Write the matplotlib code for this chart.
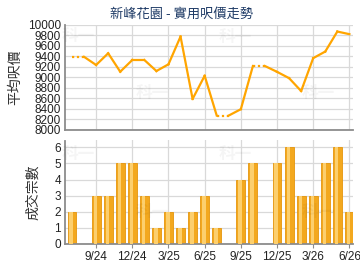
import matplotlib
matplotlib.use("Agg")
import matplotlib.pyplot as plt
import numpy as np

months = ["7/24","8/24","9/24","10/24","11/24","12/24","1/25","2/25","3/25","4/25","5/25","6/25",
          "7/25","8/25","9/25","10/25","11/25","12/25","1/26","2/26","3/26","4/26","5/26","6/26"]
prices = [9390, 9390, 9235, 9457, 9107, 9330, 9330, 9120, 9248, 9775, 8590, 9030,
          8275, 8275, 8395, 9215, 9215, 9105, 8985, 8740, 9365, 9490, 9870, 9820]
counts = [2, 0, 3, 3, 5, 5, 3, 1, 2, 1, 2, 3, 1, 0, 4, 5, 0, 5, 6, 3, 3, 5, 6, 2]
tick_labels = ["9/24", "12/24", "3/25", "6/25", "9/25", "12/25", "3/26", "6/26"]
title = "新峰花園 - 實用呎價走勢"
ylabel_top = "平均呎價"
ylabel_bot = "成交宗數"

CJK = ["Noto Sans CJK TC", "DejaVu Sans"]
NUM = ["Liberation Sans", "DejaVu Sans"]

W, H = 360, 270
fig = plt.figure(figsize=(3.6, 2.7), dpi=100)
fig.patch.set_facecolor("white")

x = np.arange(len(months))
tick_pos = [months.index(t) for t in tick_labels]
xlim = (-0.58, 23.3)

def ax_rect(l, r, t, b):
    return [l / W, 1 - b / H, (r - l) / W, (b - t) / H]

grid_c = "#d9d9d9"
spine_c = "#8c8c8c"

# ---- top: price line ----
ax1 = fig.add_axes(ax_rect(65, 353, 24.7, 130))
ax1.set_xlim(*xlim)
ax1.set_ylim(8000, 10000)
ax1.set_yticks(np.arange(8000, 10001, 200))
ax1.set_xticks(tick_pos)
ax1.set_xticklabels([])
ax1.tick_params(axis="x", length=0)
ax1.tick_params(axis="y", length=0, pad=3, labelsize=8.5, colors="#222222")
for lab in ax1.get_yticklabels():
    lab.set_family(NUM)
ax1.grid(True, color=grid_c, linewidth=0.9)
ax1.set_axisbelow(True)
for s in ["top", "right"]:
    ax1.spines[s].set_visible(False)
for s in ["left", "bottom"]:
    ax1.spines[s].set_color(spine_c)
    ax1.spines[s].set_linewidth(1.3)

line_c = "#FFA500"
for i in range(len(x) - 1):
    dotted = counts[i + 1] == 0
    ax1.plot(x[i:i + 2], prices[i:i + 2], color=line_c, linewidth=1.6,
             linestyle=(0, (1, 1.2)) if dotted else "-", solid_joinstyle="miter",
             zorder=3)
ax1.set_ylabel(ylabel_top, family=CJK, fontsize=10, color="#333333", labelpad=4)
fig.text(0.505, 1 - 14 / H, title, family=CJK, fontsize=9.5, color="#1f3b66",
         ha="center", va="center")

# ---- bottom: bars ----
ax2 = fig.add_axes(ax_rect(65, 353, 140.5, 244))
ax2.set_xlim(*xlim)
ax2.set_ylim(0, 6.42)
ax2.set_yticks(range(0, 7))
ax2.set_xticks(tick_pos)
ax2.set_xticklabels(tick_labels, family=NUM, fontsize=8.5, color="#222222")
ax2.tick_params(axis="x", length=3, color=spine_c, pad=2)
ax2.tick_params(axis="y", length=0, pad=3, labelsize=8.5, colors="#222222")
for lab in ax2.get_yticklabels():
    lab.set_family(NUM)
ax2.grid(True, color=grid_c, linewidth=0.9)
ax2.set_axisbelow(True)
for s in ["top", "right"]:
    ax2.spines[s].set_visible(False)
for s in ["left", "bottom"]:
    ax2.spines[s].set_color(spine_c)
    ax2.spines[s].set_linewidth(1.3)

ax2.bar(x, counts, width=0.74, color="#F3A81E", edgecolor="#E5960C", linewidth=0.6, zorder=2)
ax2.bar(x - 0.06, counts, width=0.3, color="#FCCF6E", linewidth=0, zorder=3)
ax2.set_ylabel(ylabel_bot, family=CJK, fontsize=10, color="#333333", labelpad=10)

# faint watermarks
for (px, py) in [(78, 36), (235, 37), (152, 93), (318, 93),
                 (78, 154), (235, 154), (152, 212), (318, 212)]:
    fig.text(px / W, 1 - py / H, "科一", family=CJK, fontsize=12, fontweight="bold",
             color="#000000", alpha=0.04, ha="center", va="center")

fig.savefig("out.png", dpi=100, facecolor="white")
